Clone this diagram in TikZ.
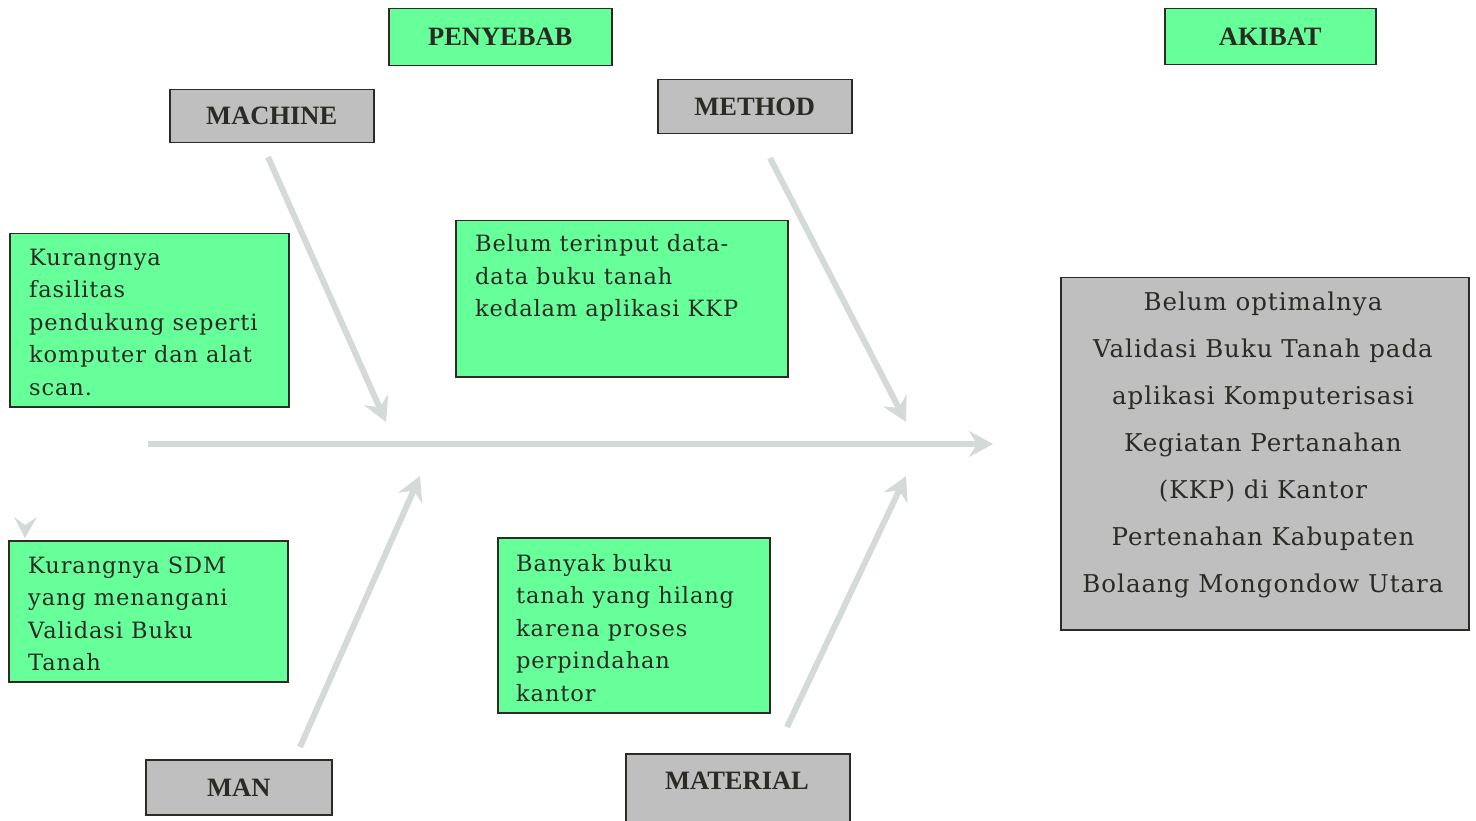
\documentclass[tikz,border=0pt]{standalone}
\usepackage{fontspec}
\setmainfont{Liberation Serif}
\newfontfamily\bodyfont[LetterSpace=4]{DejaVu Serif}
\usetikzlibrary{arrows.meta}
\definecolor{boxgreen}{HTML}{66FF99}
\definecolor{boxgray}{HTML}{BFBFBF}
\definecolor{edgec}{HTML}{2E2B26}
\definecolor{bone}{HTML}{D3DAD8}
\definecolor{ink}{HTML}{2B2A25}
\begin{document}
\begin{tikzpicture}[x=1pt,y=-1pt,
  gbox/.style={draw=edgec, line width=1.5pt, fill=boxgreen, inner sep=0pt, anchor=north west},
  graybox/.style={draw=edgec, line width=1.5pt, fill=boxgray, inner sep=0pt, anchor=north west},
  head/.style={font=\fontsize{26.5}{30}\selectfont\bfseries, text=ink},
  body/.style={font=\bodyfont\fontsize{22.5}{32.5}\selectfont, text=ink, align=left, inner sep=0pt, anchor=west},
  effect/.style={font=\bodyfont\fontsize{24.5}{47}\selectfont, text=ink, align=center, inner sep=0pt},
  bonearrow/.style={draw=bone, line width=6pt, -{Stealth[length=24pt, width=26pt, inset=8pt]}}
]
\useasboundingbox (0,0) rectangle (1476,821);
\clip (0,0) rectangle (1476,821);

% header boxes
\node[gbox, head, minimum width=223pt, minimum height=57pt] (penyebab) at (388,8) {PENYEBAB};
\node[gbox, head, minimum width=211pt, minimum height=56pt] (akibat) at (1164,8) {AKIBAT};
\node[graybox, head, minimum width=204pt, minimum height=53pt] (machine) at (169,89) {MACHINE};
\node[graybox, head, minimum width=194pt, minimum height=54pt] (method) at (657,79) {METHOD};
\node[graybox, head, minimum width=186pt, minimum height=55pt] (man) at (145,759) {MAN};
\node[graybox, minimum width=224pt, minimum height=100pt] (material) at (625,753) {};
\node[head, inner sep=0pt] (materialtext) at (737,781) {MATERIAL};

% cause boxes
\node[gbox, minimum width=279pt, minimum height=173pt] (c1box) at (9,233) {};
\node[body] (c1) at (29,322) {Kurangnya\\fasilitas\\pendukung seperti\\komputer dan alat\\scan.};

\node[gbox, minimum width=332pt, minimum height=156pt] (c2box) at (455,220) {};
\node[body] (c2) at (475,278) {Belum terinput data-\\data buku tanah\\kedalam aplikasi KKP};

\node[gbox, minimum width=279pt, minimum height=141pt] (c3box) at (8,540) {};
\node[body] (c3) at (28,614) {Kurangnya SDM\\yang menangani\\Validasi Buku\\Tanah};

\node[gbox, minimum width=272pt, minimum height=175pt] (c4box) at (497,537) {};
\node[body] (c4) at (516,628) {Banyak buku\\tanah yang hilang\\karena proses\\perpindahan\\kantor};

% effect box
\node[graybox, minimum width=408pt, minimum height=352pt] (effbox) at (1060,277) {};
\node[effect] (eff) at (1263,445) {Belum optimalnya\\Validasi Buku Tanah pada\\aplikasi Komputerisasi\\Kegiatan Pertanahan\\(KKP) di Kantor\\Pertenahan Kabupaten\\Bolaang Mongondow Utara};

% bones
\coordinate (spineS) at (148,444);
\coordinate (spineE) at (993,444);
\coordinate (mcS) at (268,157);
\coordinate (mcE) at (386,422);
\coordinate (mtS) at (770,158);
\coordinate (mtE) at (906,422);
\coordinate (mnS) at (300,747);
\coordinate (mnE) at (420,476);
\coordinate (maS) at (787,727);
\coordinate (maE) at (906,476);
\draw[bonearrow] (spineS) -- (spineE);
\draw[bonearrow] (mcS) -- (mcE);
\draw[bonearrow] (mtS) -- (mtE);
\draw[bonearrow] (mnS) -- (mnE);
\draw[bonearrow] (maS) -- (maE);

% stray arrow tip
\fill[bone] (14,517) -- (25,525) -- (37,517) -- (25,538) -- cycle;
\end{tikzpicture}
\end{document}
